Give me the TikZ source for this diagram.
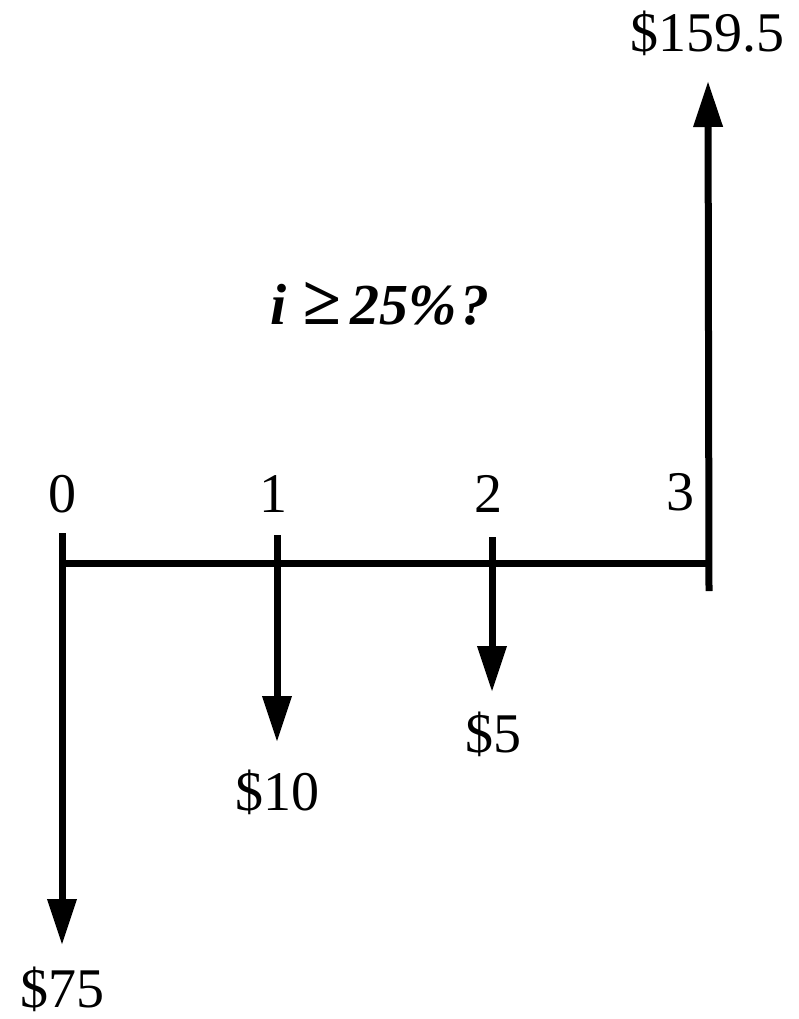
\documentclass[tikz,border=0pt]{standalone}
\usepackage{fontspec}
\setmainfont{Liberation Serif}
\usetikzlibrary{arrows.meta}
\begin{document}
\begin{tikzpicture}[x=1pt,y=-1pt,
  line/.style={line width=7pt, line cap=butt},
  flow/.style={line, -{Triangle[width=28pt,length=46pt]}},
  lbl/.style={font=\fontsize{56}{60}\selectfont, inner sep=0pt, anchor=base},
  qlbl/.style={font=\fontsize{58}{60}\selectfont\bfseries\itshape, inner sep=0pt, anchor=base}]
\useasboundingbox (0,0) rectangle (799,1019);
% axis points
\coordinate (p0) at (62,563);
\coordinate (p1) at (277,563);
\coordinate (p2) at (492,563);
\coordinate (p3) at (709,563);
% tick tops
\coordinate (u0) at (62,533);
\coordinate (u1) at (277,535);
\coordinate (u2) at (492,537);
\coordinate (u3) at (709,591);
% arrow ends
\coordinate (e0) at (62,945);
\coordinate (e1) at (277,742);
\coordinate (e2) at (492,692);
\coordinate (e3) at (708,81);
% labels
\node[lbl] (t0) at (62,512) {0};
\node[lbl] (t1) at (273,512) {1};
\node[lbl] (t2) at (488,512) {2};
\node[lbl] (t3) at (680,510) {3};
\node[lbl] (v159) at (707,52) {\$159.5};
\node[lbl] (v75) at (62,1007) {\$75};
\node[lbl] (v10) at (277,810) {\$10};
\node[lbl] (v5) at (493,752) {\$5};
\node[qlbl] (q) at (380,324) {i\hspace{16pt}\scalebox{1.2}{≥}\hspace{9pt}25\%\hspace{4pt}?};
% drawing
\draw[line] (p0) -- (p3);
\draw[flow] (u0) -- (e0);
\draw[flow] (u1) -- (e1);
\draw[flow] (u2) -- (e2);
\draw[flow] (u3) -- (e3);
\end{tikzpicture}
\end{document}
